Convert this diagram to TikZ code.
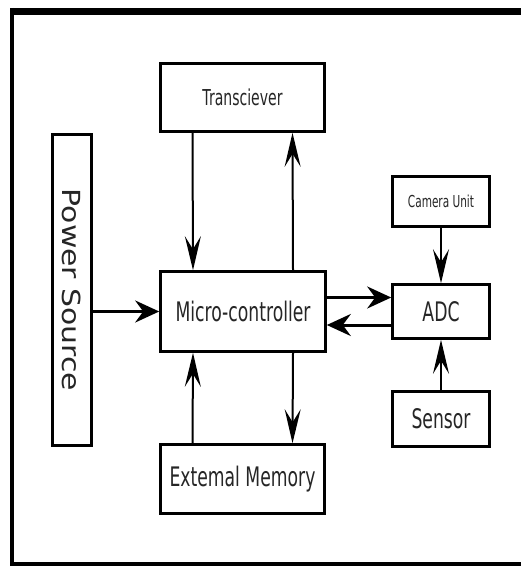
\documentclass[tikz,border=0pt]{standalone}
\usepackage{fontspec}
\usepackage{tikz}
\usetikzlibrary{arrows.meta,positioning,calc}
\newfontfamily\boxfont[FakeStretch=0.64]{DejaVu Sans}
\newfontfamily\widefont[FakeStretch=1.2]{DejaVu Sans}
\tikzset{
  block/.style={draw=black, fill=white, line width=2.6bp, inner sep=0pt,
    font=\boxfont\fontsize{27}{30}\selectfont, text=black!85},
  smallblock/.style={block, font=\boxfont\fontsize{22}{26}\selectfont},
  tinyblock/.style={block, font=\boxfont\fontsize{16.5}{19}\selectfont},
  link/.style={-{Stealth[length=34bp, width=16bp, inset=13bp]}, line width=2bp, color=black},
  buslink/.style={-{Stealth[length=24bp, width=22bp, inset=8bp]}, line width=3bp, color=black},
}
\begin{document}
\begin{tikzpicture}[x=1bp,y=-1bp]
  \useasboundingbox (0,0) rectangle (521,567);
  % outer frame, open on the right
  \draw[line width=7bp] (521,11.5) -- (12,11.5);
  \draw[line width=4bp] (12,8) -- (12,566);
  \draw[line width=4bp] (10,564) -- (521,564);

  % blocks
  \node[smallblock, minimum width=164bp, minimum height=68bp] (trans) at (242.5,97.5) {Transciever};
  \node[block, minimum width=165bp, minimum height=80bp] (mcu) at (243,311.5) {Micro-controller};
  \node[block, minimum width=164bp, minimum height=69bp] (mem) at (242.5,479) {Extemal Memory};
  \node[block, minimum width=39bp, minimum height=311bp] (power) at (72,290) {};
  \node[font=\widefont\fontsize{25}{28}\selectfont, text=black!85, rotate=-90] (powerlbl) at (power.center) {Power Source};
  \node[tinyblock, minimum width=97bp, minimum height=50bp] (cam) at (441,201.5) {Camera Unit};
  \node[block, minimum width=97bp, minimum height=54bp] (adc) at (441,311.5) {ADC};
  \node[block, minimum width=97bp, minimum height=55bp] (sensor) at (441,419) {Sensor};

  % connectors
  \draw[link] ([xshift=-50bp]trans.south) -- ([xshift=-50bp]mcu.north);
  \draw[link] ([xshift=50bp]mcu.north) -- ([xshift=50bp]trans.south);
  \draw[link] ([xshift=-50bp]mem.north) -- ([xshift=-50bp]mcu.south);
  \draw[link] ([xshift=50bp]mcu.south) -- ([xshift=50bp]mem.north);
  \draw[buslink] (power.east |- mcu) -- (mcu.west);
  \draw[buslink] ([yshift=14bp]mcu.east) -- ([yshift=14bp]adc.west);
  \draw[buslink] ([yshift=-13.5bp]adc.west) -- ([yshift=-13.5bp]mcu.east);
  \draw[link] (cam) -- (adc);
  \draw[link] (sensor) -- (adc);
\end{tikzpicture}
\end{document}
